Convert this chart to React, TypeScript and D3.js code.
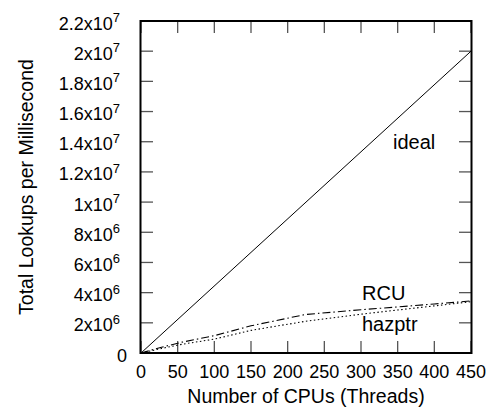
import React from "react";
import * as d3 from "d3";

const W = 497;
const H = 415;

const xTicks = [0, 50, 100, 150, 200, 250, 300, 350, 400, 450];
const yTicks = [0, 2e6, 4e6, 6e6, 8e6, 1e7, 1.2e7, 1.4e7, 1.6e7, 1.8e7, 2e7, 2.2e7];
const yTickMantissa = ["0", "2", "4", "6", "8", "1", "1.2", "1.4", "1.6", "1.8", "2", "2.2"];
const yTickExp = ["", "6", "6", "6", "6", "7", "7", "7", "7", "7", "7", "7"];

const idealCpus = [0, 450];
const idealValues = [0, 2e7];

const rcuCpus = [0, 28, 56, 100, 150, 224, 300, 350, 400, 450];
const rcuValues = [0, 0.38e6, 0.72e6, 1.15e6, 1.8e6, 2.55e6, 2.87e6, 3.05e6, 3.25e6, 3.45e6];

const hazptrCpus = [0, 28, 56, 100, 150, 224, 300, 350, 400, 450];
const hazptrValues = [0, 0.3e6, 0.58e6, 0.92e6, 1.5e6, 2.1e6, 2.57e6, 2.85e6, 3.12e6, 3.4e6];

const FONT = "'Liberation Sans', Arial, Helvetica, sans-serif";

export default function App() {
  const left = 141, right = 471, top = 21, bottom = 353;
  const x = d3.scaleLinear().domain([0, 450]).range([left, right]);
  const y = d3.scaleLinear().domain([0, 2.2e7]).range([bottom, top]);
  const line = d3
    .line<[number, number]>()
    .x((d) => x(d[0]))
    .y((d) => y(d[1]));
  const zip = (a: number[], b: number[]) => a.map((v, i) => [v, b[i]] as [number, number]);
  const tickLen = 12;
  const tickColor = "#555";

  return (
    <svg width={W} height={H} style={{ position: "absolute", left: 0, top: 0, background: "#fff" }} fontFamily={FONT}>
      <rect x={0} y={0} width={W} height={H} fill="#fff" />
      {/* ticks */}
      {xTicks.map((t) => (
        <g key={"xt" + t}>
          <line x1={x(t)} x2={x(t)} y1={bottom} y2={bottom - tickLen} stroke={tickColor} strokeWidth={1.3} />
          <line x1={x(t)} x2={x(t)} y1={top} y2={top + tickLen} stroke={tickColor} strokeWidth={1.3} />
          <text x={x(t)} y={bottom + 25} textAnchor="middle" fontSize={18} fill="#000">
            {t}
          </text>
        </g>
      ))}
      {yTicks.map((t, i) => (
        <g key={"yt" + t}>
          <line x1={left} x2={left + tickLen} y1={y(t)} y2={y(t)} stroke={tickColor} strokeWidth={1.3} />
          <line x1={right} x2={right - tickLen} y1={y(t)} y2={y(t)} stroke={tickColor} strokeWidth={1.3} />
          <text x={yTickExp[i] ? 120 : 127} y={y(t) + 8.5} textAnchor="end" fontSize={18} fill="#000">
            {yTickExp[i] ? (
              <>
                {yTickMantissa[i] + "x10"}
                <tspan fontSize={13} dy={-7.5}>
                  {yTickExp[i]}
                </tspan>
              </>
            ) : (
              yTickMantissa[i]
            )}
          </text>
        </g>
      ))}
      {/* series */}
      <path d={line(zip(idealCpus, idealValues)) || ""} fill="none" stroke="#000" strokeWidth={1} />
      <path
        d={line(zip(rcuCpus, rcuValues)) || ""}
        fill="none"
        stroke="#000"
        strokeWidth={1.1}
        strokeDasharray="8,3,1.5,3"
      />
      <path
        d={line(zip(hazptrCpus, hazptrValues)) || ""}
        fill="none"
        stroke="#000"
        strokeWidth={1.1}
        strokeDasharray="1.5,2.5"
      />
      {/* curve labels */}
      <text x={393} y={149} fontSize={20} fill="#000">ideal</text>
      <text x={362} y={299.5} fontSize={20} fill="#000">RCU</text>
      <text x={362} y={331} fontSize={20} fill="#000">hazptr</text>
      {/* frame */}
      <rect x={left - 0.5} y={top} width={right - left + 1} height={bottom - top} fill="none" stroke="#000" strokeWidth={2} />
      {/* axis labels */}
      <text x={(left + right) / 2} y={403} textAnchor="middle" fontSize={19.5} fill="#000">
        Number of CPUs (Threads)
      </text>
      <text
        transform={`translate(33, ${(top + bottom) / 2}) rotate(-90)`}
        textAnchor="middle"
        fontSize={19.5}
        fill="#000"
      >
        Total Lookups per Millisecond
      </text>
    </svg>
  );
}
